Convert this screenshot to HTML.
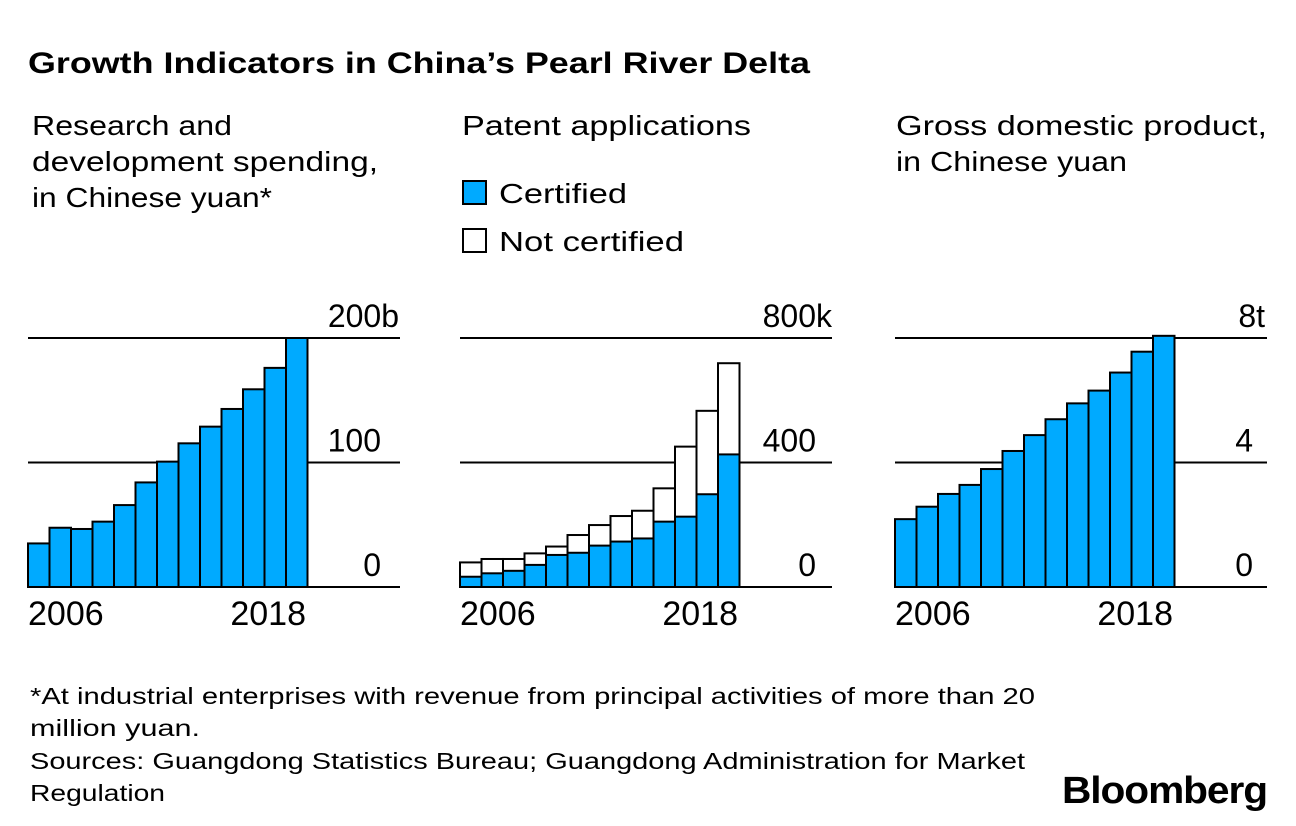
<!DOCTYPE html>
<html><head><meta charset="utf-8"><style>
html,body{margin:0;padding:0;background:#fff}
svg{display:block;font-family:"Liberation Sans",Arial,sans-serif}
</style></head><body>
<svg id="chart" width="1296" height="826" viewBox="0 0 1296 826">
<text x="28" y="73" font-size="30" font-weight="bold" textLength="782" lengthAdjust="spacingAndGlyphs">Growth Indicators in China’s Pearl River Delta</text>
<g font-size="28" fill="#000">
<text x="32" y="135" textLength="200" lengthAdjust="spacingAndGlyphs">Research and</text>
<text x="32" y="171" textLength="346" lengthAdjust="spacingAndGlyphs">development spending,</text>
<text x="32" y="207" textLength="240" lengthAdjust="spacingAndGlyphs">in Chinese yuan*</text>
<text x="462" y="135" textLength="289" lengthAdjust="spacingAndGlyphs">Patent applications</text>
<rect x="463" y="181" width="23" height="23" fill="#00aaff" stroke="#000" stroke-width="2"/>
<text x="499" y="203" textLength="128" lengthAdjust="spacingAndGlyphs">Certified</text>
<rect x="463" y="229" width="23" height="23" fill="#fff" stroke="#000" stroke-width="2"/>
<text x="499" y="251" textLength="185" lengthAdjust="spacingAndGlyphs">Not certified</text>
<text x="896" y="135" textLength="371" lengthAdjust="spacingAndGlyphs">Gross domestic product,</text>
<text x="896" y="171" textLength="231" lengthAdjust="spacingAndGlyphs">in Chinese yuan</text>
</g>
<g id="panels"></g>
<g font-size="23.5">
<text x="30" y="704" textLength="1005" lengthAdjust="spacingAndGlyphs">*At industrial enterprises with revenue from principal activities of more than 20</text>
<text x="30" y="736" textLength="170" lengthAdjust="spacingAndGlyphs">million yuan.</text>
<text x="30" y="769" textLength="995" lengthAdjust="spacingAndGlyphs">Sources: Guangdong Statistics Bureau; Guangdong Administration for Market</text>
<text x="30" y="801" textLength="135" lengthAdjust="spacingAndGlyphs">Regulation</text>
</g>
<text x="1062" y="803" font-size="38" font-weight="bold" textLength="205" lengthAdjust="spacingAndGlyphs" letter-spacing="-1">Bloomberg</text>
</svg>
<script>
const years = [2006,2007,2008,2009,2010,2011,2012,2013,2014,2015,2016,2017,2018];
const rdValues = [35,47.6,46.6,52.5,65.8,84,100.7,115.4,128.8,143,158.8,176,200];
const rdTicks = ["0","100","200b"];
const patentCertified = [33,44,52,71,103,110,133,146,156,210,226,298,426];
const patentTotal = [79,90,90,108,130,167,199,228,245,317,451,566,719];
const patentTicks = ["0","400","800k"];
const gdpValues = [2.18,2.58,2.99,3.28,3.79,4.37,4.88,5.39,5.90,6.31,6.89,7.56,8.07];
const gdpTicks = ["0","4","8t"];
const xLabels = ["2006","2018"];

const NS = "http://www.w3.org/2000/svg";
const panelsG = document.getElementById("panels");
function mk(tag, attrs, parent){const e=document.createElementNS(NS,tag);for(const k in attrs)e.setAttribute(k,attrs[k]);(parent||panelsG).appendChild(e);return e;}

const baseY = 587, topY = 338;
function panel(name, x0, max, tickLabels, tickRight, topTickRight, series, stackTotal){
  const y = v => baseY - (v/max)*(baseY-topY);
  const bw = 21.5;
  const xs = i => x0 + i*bw;
  const grp = mk("g",{});
  
  
  [0,max/2,max].forEach((v,i)=>{
    const l = mk("line",{x1:x0,x2:x0+372,y1:y(v),y2:y(v),stroke:"#000","stroke-width":2},grp);
    
    
    const t = mk("text",{x:(i===2?topTickRight:tickRight),y:y(v)-11,"font-size":32,"text-anchor":"end"},grp);
    t.textContent = tickLabels[i];
    
    
  });
  years.forEach((yr,i)=>{
    if(stackTotal){
      const r1 = mk("rect",{x:xs(i),y:y(stackTotal[i]),width:bw,height:baseY-y(stackTotal[i]),fill:"#fff",stroke:"#000","stroke-width":2},grp);
      
      
    }
    const r = mk("rect",{x:xs(i),y:y(series[i]),width:bw,height:baseY-y(series[i]),fill:"#00aaff",stroke:"#000","stroke-width":2},grp);
    
    
  });
  const t1 = mk("text",{x:x0,y:625,"font-size":34},grp); t1.textContent = xLabels[0];
  
  
  const t2 = mk("text",{x:x0+278,y:625,"font-size":34,"text-anchor":"end"},grp); t2.textContent = xLabels[1];
  
  
}
panel("rd", 28, 200, rdTicks, 381, 399, rdValues, null);
panel("patent", 460, 800, patentTicks, 816, 832, patentCertified, patentTotal);
panel("gdp", 895, 8, gdpTicks, 1253, 1265, gdpValues, null);
</script>
</body></html>
